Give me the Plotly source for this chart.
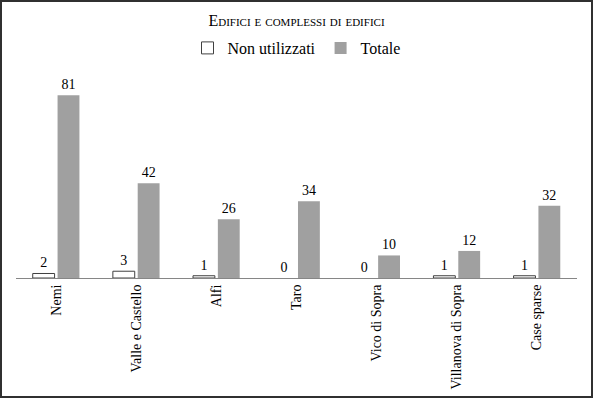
import plotly.graph_objects as go

categories = ["Nemi", "Valle e Castello", "Alfi", "Taro", "Vico di Sopra", "Villanova di Sopra", "Case sparse"]
non_utilizzati = [2, 3, 1, 0, 0, 1, 1]
totale = [81, 42, 26, 34, 10, 12, 32]

W, H = 593, 398
L, R, T, B = 16, 16, 75, 120
pw, ph = W - L - R, H - T - B

font_family = "Liberation Serif, Times New Roman, serif"
lbl_font = dict(family=font_family, size=14, color="#000000")

fig = go.Figure()
fig.add_trace(go.Bar(
    x=categories, y=non_utilizzati, name="Non utilizzati",
    marker=dict(color="white", line=dict(color="#404040", width=[1 if v > 0 else 0 for v in non_utilizzati])),
    text=non_utilizzati, textposition="outside", cliponaxis=False,
    textfont=lbl_font, outsidetextfont=lbl_font,
))
fig.add_trace(go.Bar(
    x=categories, y=totale, name="Totale",
    marker=dict(color="#a0a0a0", line=dict(width=0)),
    text=totale, textposition="outside", cliponaxis=False,
    textfont=lbl_font, outsidetextfont=lbl_font,
))

def px_x(p):
    return (p - L) / pw

def px_y(p):
    return (H - B - p) / ph

fig.update_layout(
    width=W, height=H,
    margin=dict(l=L, r=R, t=T, b=B, pad=0, autoexpand=False),
    paper_bgcolor="white", plot_bgcolor="white",
    barmode="group", bargap=0.38, bargroupgap=0.12,
    font=dict(family=font_family, size=14, color="#000000"),
    title=dict(
        text="Edifici e complessi di edifici",
        x=0.5, xanchor="center", xref="paper",
        y=1 - 20 / H, yanchor="middle",
        font=dict(family=font_family, size=16, color="#000000", variant="small-caps"),
    ),
    legend=dict(
        orientation="h", x=0.5, xanchor="center", y=px_y(48), yanchor="middle",
        font=dict(family="Liberation Serif", size=16, color="#000000"),
        itemwidth=30, traceorder="normal", bgcolor="rgba(0,0,0,0)",
    ),
    xaxis=dict(
        showline=True, linecolor="#868686", linewidth=1, automargin=False,
        ticks="", tickangle=-90, showgrid=False,
        tickfont=dict(family=font_family, size=14, color="#000000"),
    ),
    yaxis=dict(
        range=[0, 90], showgrid=False, showticklabels=False, automargin=False,
        zeroline=False, showline=False, ticks="",
    ),
    showlegend=True,
    shapes=[dict(
        type="rect", xref="paper", yref="paper",
        x0=px_x(1), x1=px_x(592), y0=px_y(397), y1=px_y(1),
        line=dict(color="#303030", width=2), fillcolor="rgba(0,0,0,0)",
    )],
)

fig.write_html("out.html")
